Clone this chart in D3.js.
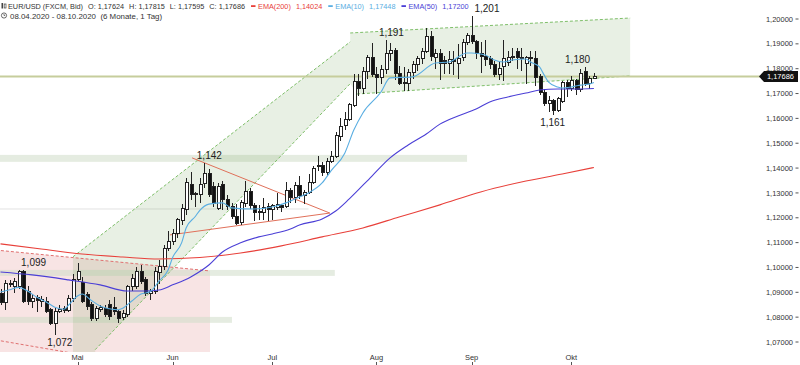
<!DOCTYPE html>
<html><head><meta charset="utf-8">
<script src="https://cdn.jsdelivr.net/npm/d3@7"></script>
<style>body{margin:0;background:#fff;} svg{display:block;font-family:"Liberation Sans",Arial,sans-serif;} text{white-space:pre;}</style>
</head><body><svg id="c" width="800" height="365"></svg>
<script>
// ---- data (daily candles 08.04.2020 - 08.10.2020) ----
const openP = [1.0895,1.0858,1.0937,1.0922,1.0923,1.0983,1.0905,1.0862,1.0880,1.0862,1.0862,1.0829,1.0775,1.0822,1.0834,1.0828,1.0876,1.0953,1.0938,1.0892,1.0849,1.0796,1.0832,1.0836,1.0849,1.0840,1.0822,1.0800,1.0809,1.0923,1.0925,1.0983,1.0950,1.0896,1.0903,1.0980,1.1005,1.1075,1.1105,1.1135,1.1190,1.1232,1.1335,1.1298,1.1292,1.1339,1.1379,1.1325,1.1238,1.1332,1.1272,1.1245,1.1205,1.1180,1.1258,1.1305,1.1250,1.1220,1.1220,1.1245,1.1232,1.1240,1.1250,1.1245,1.1310,1.1280,1.1330,1.1288,1.1300,1.1343,1.1410,1.1410,1.1383,1.1428,1.1446,1.1528,1.1570,1.1595,1.1650,1.1750,1.1722,1.1790,1.1845,1.1775,1.1765,1.1795,1.1862,1.1875,1.1782,1.1745,1.1740,1.1785,1.1815,1.1842,1.1870,1.1930,1.1845,1.1862,1.1833,1.1822,1.1835,1.1822,1.1845,1.1905,1.1935,1.1910,1.1860,1.1850,1.1842,1.1815,1.1778,1.1810,1.1825,1.1845,1.1868,1.1845,1.1820,1.1845,1.1840,1.1768,1.1705,1.1660,1.1672,1.1632,1.1668,1.1745,1.1722,1.1752,1.1715,1.1790,1.1742,1.17624];
const highP = [1.0915,1.0950,1.0950,1.0956,1.0990,1.0990,1.0925,1.0895,1.0890,1.0885,1.0880,1.0836,1.0836,1.0850,1.0845,1.0890,1.0975,1.1017,1.0960,1.0900,1.0860,1.0845,1.0850,1.0850,1.0870,1.0880,1.0830,1.0830,1.0930,1.0975,1.1000,1.1010,1.0960,1.0915,1.1000,1.1030,1.1090,1.1145,1.1155,1.1200,1.1255,1.1360,1.1385,1.1305,1.1360,1.1422,1.1395,1.1345,1.1340,1.1350,1.1290,1.1260,1.1255,1.1270,1.1350,1.1320,1.1260,1.1250,1.1280,1.1260,1.1255,1.1300,1.1255,1.1345,1.1320,1.1345,1.1370,1.1310,1.1375,1.1410,1.1450,1.1425,1.1440,1.1470,1.1545,1.1600,1.1625,1.1660,1.1780,1.1780,1.1805,1.1855,1.1905,1.1805,1.1815,1.1916,1.1905,1.1885,1.1810,1.1805,1.1800,1.1830,1.1850,1.1885,1.1965,1.1950,1.1880,1.1880,1.1850,1.1870,1.1870,1.1900,1.1920,1.1945,1.2011,1.1915,1.1909,1.1915,1.1850,1.1830,1.1830,1.1915,1.1870,1.1885,1.1885,1.1882,1.1850,1.1870,1.1870,1.1780,1.1720,1.1690,1.1680,1.1685,1.1750,1.1755,1.1770,1.1760,1.1800,1.1806,1.1770,1.17815];
const lowP = [1.0850,1.0830,1.0920,1.0898,1.0915,1.0855,1.0850,1.0836,1.0822,1.0840,1.0815,1.0770,1.0727,1.0815,1.0815,1.0820,1.0860,1.0945,1.0858,1.0830,1.0785,1.0785,1.0820,1.0800,1.0790,1.0810,1.0775,1.0790,1.0800,1.0905,1.0915,1.0935,1.0885,1.0870,1.0895,1.0935,1.0990,1.1065,1.1090,1.1120,1.1170,1.1210,1.1270,1.1245,1.1260,1.1320,1.1285,1.1245,1.1230,1.1230,1.1230,1.1195,1.1170,1.1170,1.1245,1.1235,1.1185,1.1190,1.1190,1.1185,1.1190,1.1230,1.1225,1.1240,1.1260,1.1260,1.1275,1.1255,1.1295,1.1335,1.1390,1.1370,1.1370,1.1420,1.1440,1.1510,1.1555,1.1590,1.1645,1.1690,1.1700,1.1760,1.1765,1.1700,1.1740,1.1780,1.1830,1.1755,1.1735,1.1710,1.1710,1.1760,1.1790,1.1820,1.1865,1.1830,1.1800,1.1755,1.1780,1.1780,1.1775,1.1760,1.1830,1.1895,1.1900,1.1840,1.1782,1.1810,1.1800,1.1765,1.1755,1.1750,1.1810,1.1830,1.1800,1.1790,1.1737,1.1810,1.1730,1.1695,1.1650,1.1627,1.1612,1.1625,1.1660,1.1685,1.1710,1.1695,1.1705,1.1730,1.1720,1.17595];
const closeP = [1.0858,1.0935,1.0933,1.0942,1.0983,1.0865,1.0862,1.0877,1.0866,1.0872,1.0822,1.0775,1.0822,1.0832,1.0828,1.0876,1.0953,1.0982,1.0865,1.0843,1.0796,1.0836,1.0840,1.0809,1.0803,1.0822,1.0796,1.0815,1.0923,1.0956,1.0983,1.0945,1.0896,1.0903,1.0985,1.1005,1.1078,1.1105,1.1135,1.1195,1.1238,1.1340,1.1292,1.1292,1.1332,1.1379,1.1295,1.1258,1.1325,1.1272,1.1245,1.1205,1.1178,1.1260,1.1305,1.1250,1.1220,1.1225,1.1240,1.1232,1.1250,1.1252,1.1240,1.1310,1.1280,1.1330,1.1288,1.1300,1.1343,1.1400,1.1405,1.1383,1.1428,1.1446,1.1530,1.1568,1.1597,1.1655,1.1750,1.1722,1.1790,1.1845,1.1778,1.1765,1.1795,1.1862,1.1875,1.1782,1.1742,1.1740,1.1785,1.1815,1.1842,1.1870,1.1930,1.1850,1.1862,1.1822,1.1822,1.1835,1.1830,1.1840,1.1905,1.1935,1.1910,1.1862,1.1850,1.1837,1.1815,1.1778,1.1800,1.1842,1.1845,1.1850,1.1845,1.1840,1.1845,1.1840,1.1765,1.1705,1.1660,1.1672,1.1630,1.1680,1.1745,1.1720,1.1752,1.1715,1.1782,1.1742,1.1760,1.17686];

const monthLabels = ["Mai","Jun","Jul","Aug","Sep","Okt"];
const monthIdx = [17,38,60,83,104,126];
const yTicks = [1.20,1.19,1.18,1.17,1.16,1.15,1.14,1.13,1.12,1.11,1.10,1.09,1.08,1.07];

const ema10Idx = [0,2,4,6,8,10,12,14,15,17,18,20,22,24,26,27,29,31,33,35,37,38,40,41,43,44,46,49,51,56,60,63,66,68,71,73,76,78,80,84,86,91,96,99,103,104,107,109,111,113,116,117,119,120,121,123,124,126,128,130,131];
const ema10Val = [1.0901,1.0910,1.0920,1.0905,1.0880,1.0862,1.0840,1.0832,1.0848,1.0885,1.0893,1.0868,1.0845,1.0834,1.0830,1.0836,1.0865,1.0893,1.0902,1.0945,1.0990,1.1040,1.1100,1.1160,1.1205,1.1230,1.1255,1.1260,1.1240,1.1235,1.1243,1.1260,1.1284,1.1300,1.1340,1.1390,1.1460,1.1553,1.1622,1.1706,1.1763,1.1767,1.1823,1.1827,1.1863,1.1863,1.1855,1.1835,1.1827,1.1835,1.1839,1.1827,1.1807,1.1775,1.1746,1.1726,1.1722,1.1726,1.1734,1.1738,1.17448];
const ema50Idx = [0,7,15,22,28,32,35,38,42,46,49,53,57,60,64,66,71,74,77,82,86,90,94,97,101,105,108,112,116,119,123,127,131];
const ema50Val = [1.0982,1.0970,1.0950,1.0930,1.0905,1.0905,1.0909,1.0930,1.0962,1.1010,1.1062,1.1099,1.1123,1.1135,1.1155,1.1171,1.1195,1.1227,1.1276,1.1368,1.1441,1.1493,1.1537,1.1577,1.1610,1.1638,1.1666,1.1686,1.1702,1.1714,1.1718,1.1718,1.1720];
const ema200Idx = [0,9,18,27,35,44,53,62,71,80,88,97,106,115,124,131];
const ema200Val = [1.1095,1.1074,1.1054,1.1042,1.1034,1.1040,1.1058,1.1087,1.1123,1.1159,1.1203,1.1252,1.1304,1.1344,1.1376,1.14024];

const peakText = ["1,099","1,072","1,142","1,191","1,201","1,161","1,180"];
const peakIdx  = [7.3,13.1,46.1,86.3,107.4,121.9,127.4];
const peakVal  = [1.0990,1.0727,1.1422,1.1916,1.2011,1.1612,1.1806];
const peakSide = ["up","down","up","up","up","down","up"];

const lastClose = 1.17686;
const headerItems = ["EUR/USD (FXCM, Bid)","O: 1,17624","H: 1,17815","L: 1,17595","C: 1,17686"];
const legendNames = ["EMA(200)","EMA(10)","EMA(50)"];
const legendValues = ["1,14024","1,17448","1,17200"];
const legendColors = ["#e8403a","#5aaee2","#4b3fd6"];

// ---- scales ----
const svg = d3.select("#c");
const x = d3.scaleLinear().domain([0,131]).range([0.5, 593.9]);
const y = d3.scaleLinear().domain([1.07,1.20]).range([342,19]);
const plotBottom = 352;

svg.append("defs").append("clipPath").attr("id","plot").append("rect").attr("x",0).attr("y",0).attr("width",760).attr("height",plotBottom);

const gBg = svg.append("g").attr("clip-path","url(#plot)");
// pink descending channel
const pinkUp = [[-1,1.1070],[46.25,1.0986]];
const pinkLo = [[-1,1.0708],[46.25,1.0560]];
gBg.append("path").attr("d", d3.line()([[x(-1),y(1.1070)],[x(46.25),y(1.0986)],[x(46.25),plotBottom],[x(-1),plotBottom]]))
  .attr("fill","#f8e4e4");
// bands
const bands = [[0,103,1.1425,1.1453],[0,73.8,1.0966,1.0990],[0,51.1,1.0777,1.0801]];
bands.forEach(b=>{
  gBg.append("rect").attr("x",x(b[0])-1).attr("width",x(b[1])-x(b[0])+1)
    .attr("y",y(b[3])).attr("height",y(b[2])-y(b[3])).attr("fill","#cfdcc9").attr("opacity",0.55);
});
gBg.append("line").attr("x1",0).attr("x2",x(68)).attr("y1",y(1.12354)).attr("y2",y(1.12354)).attr("stroke","#e2e2e2");

// green rising channel
gBg.append("path").attr("d", d3.line()([[x(16),plotBottom+10],[x(16),y(1.1043)],[x(77.2),y(1.1908)],[x(77.2),y(1.1740)],[x(20.9),y(1.0669)],[x(20.9),plotBottom+10]]))
  .attr("fill","rgba(110,160,90,0.16)");
const box2 = [[77.2,1.19437],[139,1.2004],[139,1.1771],[78.7,1.1698]];
gBg.append("path").attr("d", d3.line()(box2.map(p=>[x(p[0]),y(p[1])]).concat([[x(77.2),y(1.1740)]])))
  .attr("fill","rgba(110,160,90,0.16)");

const dash = (pts,col)=>gBg.append("path").attr("d",d3.line()(pts.map(p=>[x(p[0]),y(p[1])])))
  .attr("fill","none").attr("stroke",col).attr("stroke-width",1).attr("stroke-dasharray","3,2");
dash([[16,1.1043],[77.2,1.1908]],"#7fbf6a");
dash([[20.9,1.0669],[77.2,1.1740]],"#7fbf6a");
dash([[77.2,1.19437],[139,1.2004]],"#7fbf6a");
dash([[78.7,1.1698],[139,1.1771]],"#7fbf6a");
dash(pinkUp,"#e07070");
dash(pinkLo,"#e07070");

// red triangle
const tri = [[42.3,1.1441],[72.7,1.1219],[37.4,1.1131]];
gBg.append("path").attr("d",d3.line()(tri.map(p=>[x(p[0]),y(p[1])]))).attr("fill","none").attr("stroke","#e0705a").attr("stroke-width",1);

// last price line
gBg.append("line").attr("x1",0).attr("x2",762).attr("y1",y(lastClose)).attr("y2",y(lastClose)).attr("stroke","#c6cd9c").attr("stroke-width",2);

// ---- candles ----
const gC = svg.append("g").attr("shape-rendering","crispEdges");
openP.forEach((o,i)=>{
  const cx = Math.round(x(i))+0.5;
  const c = closeP[i];
  gC.append("line").attr("x1",cx).attr("x2",cx).attr("y1",y(highP[i])).attr("y2",y(lowP[i])).attr("stroke","#222");
  const top = y(Math.max(o,c)), bot = y(Math.min(o,c));
  gC.append("rect").attr("x",cx-1.5).attr("y",top).attr("width",3).attr("height",Math.max(1,bot-top))
    .attr("fill", c>=o ? "#fff" : "#111").attr("stroke","#222").attr("stroke-width",1);
});

// ---- EMAs ----
const emaLine = (idx,val,col)=>svg.append("path")
  .attr("d", d3.line().curve(d3.curveMonotoneX)(idx.map((k,j)=>[x(k),y(val[j])])))
  .attr("fill","none").attr("stroke",col).attr("stroke-width",1.1);
emaLine(ema200Idx,ema200Val,legendColors[0]);
emaLine(ema50Idx,ema50Val,legendColors[2]);
emaLine(ema10Idx,ema10Val,legendColors[1]);

// ---- peak labels ----
peakText.forEach((t,k)=>{
  svg.append("text").attr("x",x(peakIdx[k])).attr("y", peakSide[k]==="up" ? y(peakVal[k])-4 : y(peakVal[k])+11)
    .attr("text-anchor","middle").attr("font-size",10).attr("fill","#222").text(t);
});

// ---- y axis ----
const fmt = v=>d3.format(".5f")(v).replace(".",",");
const gy = svg.append("g").attr("font-size",7.5).attr("fill","#333");
yTicks.forEach(v=>{
  gy.append("text").attr("x",793).attr("y",y(v)+2.6).attr("text-anchor","end").text(fmt(v));
  gy.append("line").attr("x1",795.5).attr("x2",798.5).attr("y1",y(v)).attr("y2",y(v)).attr("stroke","#555");
});
// price badge
const by = y(lastClose);
svg.append("path").attr("d",`M759,${by} L764,${by-5.5} L798,${by-5.5} L798,${by+5.5} L764,${by+5.5} Z`).attr("fill","#111");
svg.append("text").attr("x",794).attr("y",by+2.6).attr("text-anchor","end").attr("font-size",7.5).attr("fill","#fff").text(fmt(lastClose));

// ---- x axis ----
monthLabels.forEach((m,k)=>{
  svg.append("text").attr("x",x(monthIdx[k])).attr("y",360).attr("text-anchor","middle").attr("font-size",7.5).attr("fill","#333").text(m);
  svg.append("line").attr("x1",Math.round(x(monthIdx[k]))+0.5).attr("x2",Math.round(x(monthIdx[k]))+0.5).attr("y1",362).attr("y2",365).attr("stroke","#555");
});

// ---- header ----
const hd = svg.append("g").attr("font-size",7.3).attr("fill","#333");
hd.append("rect").attr("x",1.5).attr("y",3).attr("width",1.6).attr("height",5.5).attr("fill","#444");
hd.append("rect").attr("x",4.2).attr("y",4).attr("width",1.8).attr("height",4).attr("fill","none").attr("stroke","#444").attr("stroke-width",0.7);
let hx = 8;
headerItems.forEach(t=>{
  const el = hd.append("text").attr("x",hx).attr("y",9).text(t);
  hx += el.node().getComputedTextLength() + 5;
});
hx += 1;
legendNames.forEach((n,k)=>{
  hd.append("rect").attr("x",hx).attr("y",5.2).attr("width",4.5).attr("height",1.8).attr("fill",legendColors[k]);
  hx += 7;
  const a = hd.append("text").attr("x",hx).attr("y",9).attr("fill",legendColors[k]).text(n);
  hx += a.node().getComputedTextLength() + 5;
  const b = hd.append("text").attr("x",hx).attr("y",9).attr("fill",legendColors[k]).text(legendValues[k]);
  hx += b.node().getComputedTextLength() + 6;
});
hd.append("circle").attr("cx",4).attr("cy",15.5).attr("r",2.6).attr("fill","none").attr("stroke","#444").attr("stroke-width",0.8);
hd.append("path").attr("d","M4,14 L4,15.5 L5.2,15.5").attr("fill","none").attr("stroke","#444").attr("stroke-width",0.7);
hd.append("text").attr("x",10).attr("y",18.5).attr("font-size",7.9).text("08.04.2020 - 08.10.2020  (6 Monate, 1 Tag)");
</script></body></html>
